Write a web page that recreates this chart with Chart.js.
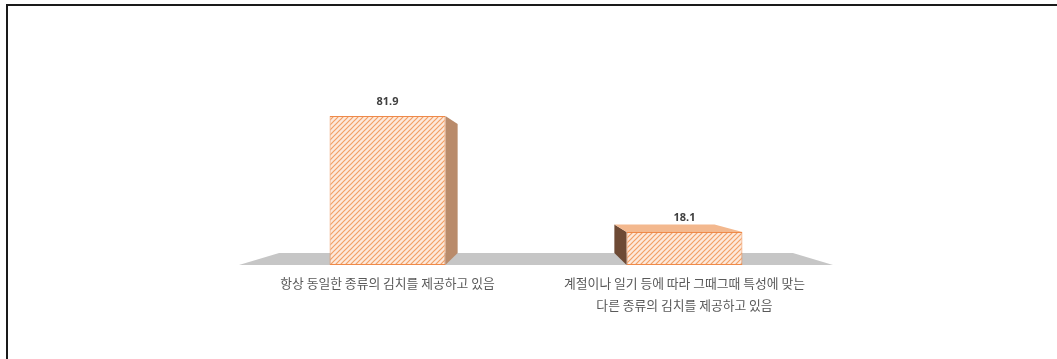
<!DOCTYPE html>
<html lang="ko">
<head>
<meta charset="utf-8">
<title>김치 제공 방식</title>
<script src="https://cdn.jsdelivr.net/npm/chart.js@4.4.1/dist/chart.umd.min.js"></script>
<style>
  html, body {
    margin: 0;
    padding: 0;
    background: #ffffff;
  }
  .wrap {
    position: relative;
    width: 1057px;
    height: 359px;
    overflow: hidden;
  }
  .frame {
    position: absolute;
    left: 6px;
    top: 4px;
    right: -2px;
    bottom: -2px;
    border-top: 2px solid #1a1a1a;
    border-left: 2px solid #1a1a1a;
    pointer-events: none;
  }
  canvas {
    display: block;
  }
</style>
</head>
<body>
<div class="wrap">
  <canvas id="barChart" width="1057" height="359"></canvas>
  <div class="frame"></div>
</div>

<script>
const categories = [
  "항상 동일한 종류의 김치를 제공하고 있음",
  ["계절이나 일기 등에 따라 그때그때 특성에 맞는", "다른 종류의 김치를 제공하고 있음"]
];
const shares = [81.9, 18.1];
const axisRange = [0, 100];

// perspective depth of the bars and the floor
const DEPTH = 0.135;

function makeHatch() {
  const size = 5;
  const c = document.createElement("canvas");
  c.width = size;
  c.height = size;
  const g = c.getContext("2d");
  g.fillStyle = "#fde9dc";
  g.fillRect(0, 0, size, size);
  g.strokeStyle = "#f2a066";
  g.lineWidth = 1.2;
  g.beginPath();
  g.moveTo(-1, size + 1);
  g.lineTo(size + 1, -1);
  g.moveTo(-1, 1);
  g.lineTo(1, -1);
  g.moveTo(size - 1, size + 1);
  g.lineTo(size + 1, size - 1);
  g.stroke();
  return g.createPattern(c, "repeat");
}

function vanishing(chart) {
  const area = chart.chartArea;
  return {
    x: (area.left + area.right) / 2,
    y: area.bottom - (area.bottom - area.top) * 0.49
  };
}

function back(vp, x, y) {
  return [x + (vp.x - x) * DEPTH, y + (vp.y - y) * DEPTH];
}

function poly(ctx, pts, fill) {
  ctx.beginPath();
  ctx.moveTo(pts[0][0], pts[0][1]);
  for (let i = 1; i < pts.length; i++) ctx.lineTo(pts[i][0], pts[i][1]);
  ctx.closePath();
  ctx.fillStyle = fill;
  ctx.fill();
}

const depthPlugin = {
  id: "depth",
  beforeDatasetsDraw(chart) {
    const ctx = chart.ctx;
    const area = chart.chartArea;
    const vp = vanishing(chart);
    const base = chart.scales.y.getPixelForValue(0);

    ctx.save();
    // floor
    poly(ctx, [
      [area.left, base],
      [area.right, base],
      back(vp, area.right, base),
      back(vp, area.left, base)
    ], "#c6c6c6");

    // side and top faces
    chart.getDatasetMeta(0).data.forEach((bar) => {
      const left = bar.x - bar.width / 2;
      const right = bar.x + bar.width / 2;
      const top = bar.y;
      const bottom = bar.base;

      if (bar.x < vp.x) {
        poly(ctx, [[right, top], back(vp, right, top), back(vp, right, bottom), [right, bottom]], "#b98b6b");
      } else {
        poly(ctx, [[left, top], back(vp, left, top), back(vp, left, bottom), [left, bottom]], "#6d4a35");
      }
      if (vp.y < top) {
        poly(ctx, [[left, top], [right, top], back(vp, right, top), back(vp, left, top)], "#f3b88e");
      }
    });
    ctx.restore();
  },
  afterDatasetsDraw(chart) {
    const ctx = chart.ctx;
    ctx.save();
    ctx.font = "bold 11px 'Noto Sans', 'Noto Sans CJK KR', sans-serif";
    ctx.fillStyle = "#404040";
    ctx.textAlign = "center";
    ctx.textBaseline = "middle";
    chart.getDatasetMeta(0).data.forEach((bar, i) => {
      ctx.fillText(shares[i].toFixed(1), bar.x, bar.y - 14);
    });
    ctx.restore();
  }
};

function renderChart() {
  const canvas = document.getElementById("barChart");
  const ctx = canvas.getContext("2d");

  new Chart(ctx, {
    type: "bar",
    data: {
      labels: categories,
      datasets: [
        {
          label: "비율",
          data: shares,
          backgroundColor: makeHatch(),
          borderColor: "#ee8a4a",
          borderWidth: 1,
          borderSkipped: false,
          categoryPercentage: 1,
          barPercentage: 0.39
        }
      ]
    },
    options: {
      responsive: false,
      animation: false,
      events: [],
      layout: {
        padding: { left: 239, right: 224, top: 83, bottom: 0 }
      },
      plugins: {
        legend: { display: false },
        tooltip: { enabled: false }
      },
      scales: {
        y: {
          display: false,
          min: axisRange[0],
          max: axisRange[1]
        },
        x: {
          grid: { display: false, drawTicks: false },
          border: { display: false },
          ticks: {
            color: "#595959",
            padding: 7,
            maxRotation: 0,
            autoSkip: false,
            font: {
              family: "'Noto Sans CJK KR', sans-serif",
              size: 12.8,
              lineHeight: 1.75
            }
          },
          afterFit(scale) {
            scale.height = 94;
          }
        }
      }
    },
    plugins: [depthPlugin]
  });
}

document.addEventListener("DOMContentLoaded", renderChart);
</script>
</body>
</html>
